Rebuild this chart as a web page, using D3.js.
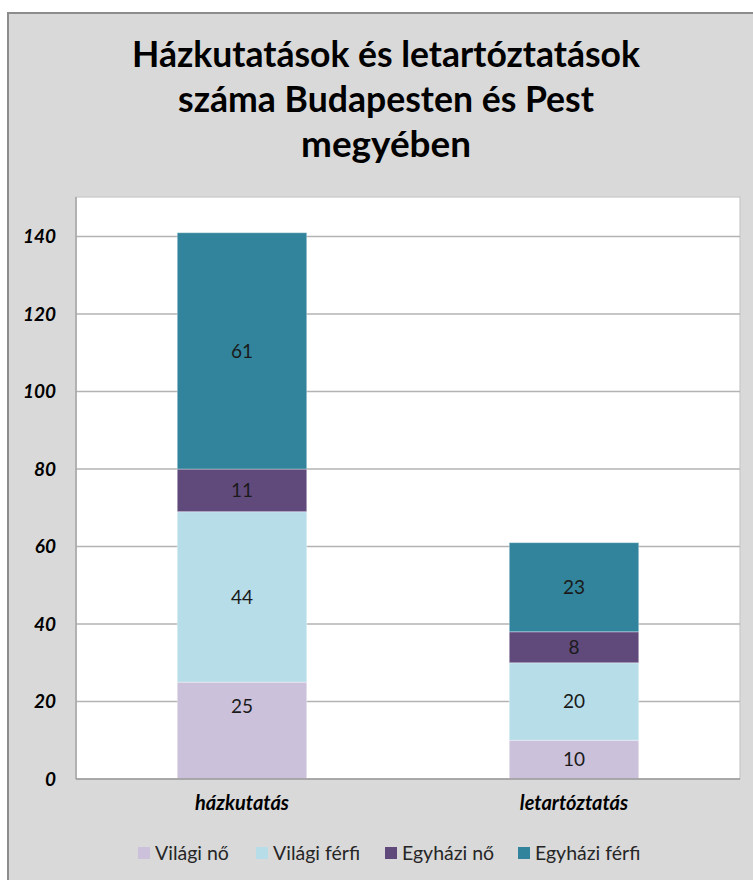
<!DOCTYPE html>
<html><head><meta charset="utf-8">
<script src="https://cdn.jsdelivr.net/npm/d3@7"></script>
<style>body{margin:0;background:#fff;}svg{display:block;}</style>
</head><body>
<svg id="chart" width="753" height="880"></svg>
<script>
const categories = ["házkutatás", "letartóztatás"];
const seriesNames = ["Világi nő", "Világi férfi", "Egyházi nő", "Egyházi férfi"];
const vilagiNo = [25, 10];
const vilagiFerfi = [44, 20];
const egyhaziNo = [11, 8];
const egyhaziFerfi = [61, 23];
const yTicks = [0, 20, 40, 60, 80, 100, 120, 140];
const titleLines = ["Házkutatások és letartóztatások", "száma Budapesten és Pest", "megyében"];
const colors = ["#ccc1da", "#b7dde8", "#604a7b", "#31849b"];

const seriesValues = [vilagiNo, vilagiFerfi, egyhaziNo, egyhaziFerfi];
const rows = categories.map((c, i) => {
  const r = {cat: c};
  seriesNames.forEach((s, j) => r[s] = seriesValues[j][i]);
  return r;
});
const stacked = d3.stack().keys(seriesNames)(rows);

const svg = d3.select("#chart");
const font = "Lato, 'Open Sans', sans-serif";

// outer chart background
svg.append("rect").attr("x", 8).attr("y", 13).attr("width", 760).attr("height", 900)
  .attr("fill", "#d9d9d9").attr("stroke", "#8c8c8c").attr("stroke-width", 2);

// title
const titleW = [508, 416, 170];
svg.append("g").selectAll("text").data(titleLines).join("text")
  .attr("x", 386).attr("y", (d, i) => 67 + i * 45)
  .attr("text-anchor", "middle")
  .attr("font-family", font).attr("font-weight", "bold").attr("font-size", 36)
  .attr("fill", "#000")
  .attr("textLength", (d, i) => titleW[i]).attr("lengthAdjust", "spacingAndGlyphs")
  .text(d => d);

const plot = {left: 76, top: 197, right: 740, bottom: 779};
const x = d3.scaleBand().domain(categories).range([plot.left, plot.right])
  .paddingInner(0.61).paddingOuter(0.305);
const y = d3.scaleLinear().domain([0, 140]).range([plot.bottom, 236.6]);

// plot area
svg.append("rect").attr("x", plot.left).attr("y", plot.top)
  .attr("width", plot.right - plot.left).attr("height", plot.bottom - plot.top)
  .attr("fill", "#fff").attr("stroke", "#c8c8c8").attr("stroke-width", 1.2);

// gridlines
svg.append("g").selectAll("line").data(yTicks.filter(t => t > 0)).join("line")
  .attr("x1", plot.left).attr("x2", plot.right)
  .attr("y1", d => y(d)).attr("y2", d => y(d))
  .attr("stroke", "#b3b3b3").attr("stroke-width", 1.5);

// left axis line
svg.append("line").attr("x1", plot.left).attr("x2", plot.left)
  .attr("y1", plot.top).attr("y2", plot.bottom)
  .attr("stroke", "#a6a6a6").attr("stroke-width", 1.5);

// y axis labels
const yAxis = d3.axisLeft(y).tickValues(yTicks).tickSize(0).tickPadding(20);
const ya = svg.append("g").attr("transform", `translate(${plot.left},0)`).call(yAxis);
ya.select(".domain").remove();
ya.selectAll("text").attr("font-family", font).attr("font-weight", "bold")
  .attr("font-style", "italic").attr("font-size", 19).attr("fill", "#000");

// bars
const layer = svg.append("g").selectAll("g").data(stacked).join("g")
  .attr("fill", (d, i) => colors[i]);
layer.selectAll("rect").data(d => d.map(v => ({v, key: d.key}))).join("rect")
  .attr("x", d => x(d.v.data.cat))
  .attr("width", x.bandwidth())
  .attr("y", d => y(d.v[1]))
  .attr("height", d => y(d.v[0]) - y(d.v[1]))
  .attr("stroke", "rgba(255,255,255,0.35)").attr("stroke-width", 1);

// data labels (the lowest label of the first bar sits near the top of its segment, as in the original)
const labelShift = (d, i) => (d.key === seriesNames[0] && i === 0) ? -24 : 0;
layer.selectAll("text").data(d => d.map(v => ({v, key: d.key}))).join("text")
  .attr("x", d => x(d.v.data.cat) + x.bandwidth() / 2)
  .attr("y", (d, i) => (y(d.v[0]) + y(d.v[1])) / 2 + labelShift(d, i))
  .attr("dy", "0.35em")
  .attr("text-anchor", "middle")
  .attr("font-family", font).attr("font-size", 19).attr("fill", "#1a1a1a")
  .text(d => d.v[1] - d.v[0]);

// x axis line
svg.append("line").attr("x1", plot.left).attr("x2", plot.right)
  .attr("y1", plot.bottom).attr("y2", plot.bottom)
  .attr("stroke", "#999").attr("stroke-width", 1.5);

// x axis labels
const xAxis = d3.axisBottom(x).tickSize(0).tickPadding(17);
const xa = svg.append("g").attr("transform", `translate(0,${plot.bottom})`).call(xAxis);
xa.select(".domain").remove();
xa.selectAll("text").attr("font-family", font).attr("font-weight", "bold")
  .attr("font-style", "italic").attr("font-size", 20).attr("fill", "#000");

// legend
const legendX = [138, 256, 385, 518];
const lg = svg.append("g").selectAll("g").data(seriesNames).join("g")
  .attr("transform", (d, i) => `translate(${legendX[i]},853)`);
lg.append("rect").attr("x", 0).attr("y", -6).attr("width", 12).attr("height", 12)
  .attr("fill", (d, i) => colors[i]);
lg.append("text").attr("x", 17).attr("y", 0).attr("dy", "0.35em")
  .attr("font-family", font).attr("font-size", 19.5).attr("fill", "#262626")
  .text(d => d);
</script>
</body></html>
